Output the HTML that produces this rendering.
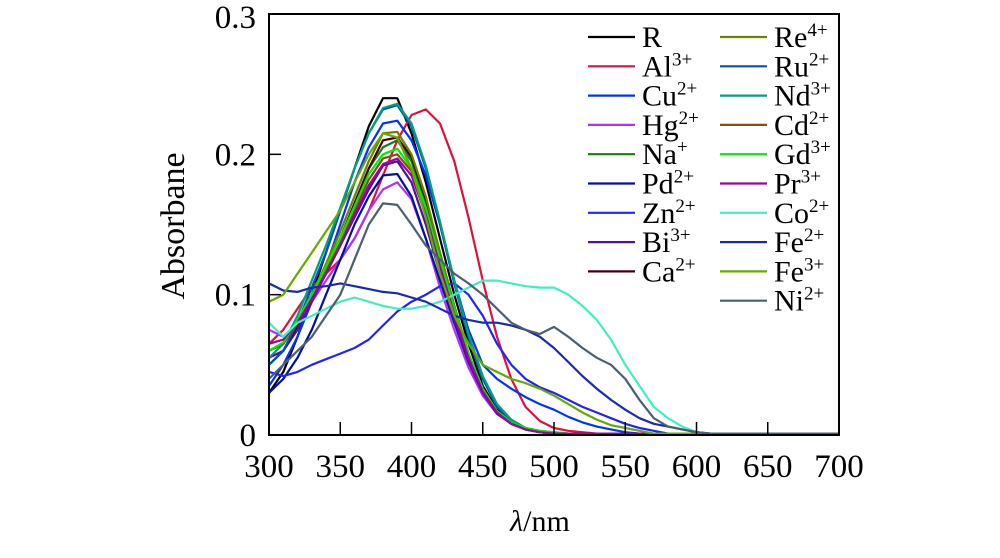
<!DOCTYPE html>
<html><head><meta charset="utf-8"><style>
body{margin:0;background:#fff;}
svg text{font-family:"Liberation Serif",serif;fill:#000;}
</style></head><body>
<svg id="chart" width="1000" height="553" viewBox="0 0 1000 553" xmlns="http://www.w3.org/2000/svg">
<g id="plot"></g>
<rect x="269" y="14" width="570" height="421" fill="none" stroke="#000" stroke-width="2"/>
<g id="axes"></g>
<g id="legend"></g>
<text x="0" y="0" font-size="34" text-anchor="middle" transform="translate(184,226) rotate(-90)">Absorbane</text>
<text x="540" y="531" font-size="30" text-anchor="middle"><tspan font-style="italic">λ</tspan>/nm</text>
</svg>
<script>
const wavelengths = [300,310,320,330,340,350,360,370,380,390,400,410,420,430,440,450,460,470,480,490,500,510,520,530,540,550,560,570,580,590,600,610,620,630,640,650,660,670,680,690,700];
const xTicks = [300,350,400,450,500,550,600,650,700];
const yTicks = [0,0.1,0.2,0.3];
const yTickLabels = ["0","0.1","0.2","0.3"];
const seriesNames = ["R","Al","Cu","Hg","Na","Pd","Zn","Bi","Ca","Re","Ru","Nd","Cd","Gd","Pr","Co","Fe2","Fe3","Ni"];
const seriesSup = ["","3+","2+","2+","+","2+","2+","3+","2+","4+","2+","3+","2+","3+","3+","2+","2+","3+","2+"];
const seriesColors = ["#000000","#e0103a","#0033ff","#b030ff","#108010","#0010a0","#2222ff","#5010a0","#400010","#708000","#0050c0","#00a080","#805010","#00ee00","#a000a0","#3ef0c0","#1a2ab0","#66aa00","#4a6070"];
const vR  = [0.03,0.045,0.07,0.10,0.13,0.16,0.19,0.22,0.24,0.24,0.215,0.18,0.14,0.10,0.065,0.035,0.018,0.008,0.004,0.002,0.001];
const vAl = [0.065,0.075,0.09,0.105,0.115,0.125,0.14,0.16,0.185,0.21,0.228,0.232,0.222,0.195,0.155,0.11,0.07,0.04,0.02,0.01,0.005,0.003,0.002];
const vCu = [0.035,0.05,0.07,0.095,0.12,0.15,0.18,0.205,0.222,0.224,0.21,0.185,0.15,0.11,0.075,0.05,0.04,0.033,0.027,0.022,0.018,0.013,0.009,0.006,0.004,0.002];
const vHg = [0.075,0.07,0.08,0.095,0.11,0.125,0.14,0.16,0.175,0.18,0.168,0.14,0.105,0.075,0.048,0.028,0.015,0.008,0.005,0.003,0.002];
const vNa = [0.06,0.065,0.08,0.1,0.12,0.14,0.165,0.19,0.205,0.21,0.195,0.165,0.125,0.09,0.058,0.032,0.016,0.008,0.004,0.002,0.001];
const vPd = [0.03,0.04,0.055,0.075,0.1,0.125,0.15,0.17,0.185,0.186,0.17,0.14,0.11,0.08,0.052,0.03,0.016,0.008,0.004,0.002,0.001];
const vZn = [0.045,0.042,0.045,0.05,0.054,0.058,0.062,0.068,0.078,0.088,0.095,0.1,0.106,0.108,0.1,0.085,0.065,0.05,0.04,0.034,0.03,0.025,0.02,0.016,0.012,0.008,0.005,0.003];
const vBi = [0.055,0.06,0.075,0.095,0.115,0.135,0.155,0.175,0.192,0.195,0.18,0.15,0.115,0.082,0.052,0.03,0.015,0.008,0.004,0.002,0.001];
const vCa = [0.05,0.06,0.078,0.1,0.12,0.14,0.165,0.19,0.21,0.212,0.198,0.168,0.13,0.092,0.058,0.032,0.016,0.008,0.004,0.002,0.001];
const vRe = [0.06,0.065,0.08,0.1,0.122,0.145,0.17,0.195,0.215,0.216,0.2,0.17,0.13,0.092,0.058,0.032,0.016,0.008,0.004,0.002,0.001];
const vRu = [0.05,0.06,0.08,0.105,0.13,0.16,0.19,0.215,0.232,0.235,0.22,0.19,0.15,0.108,0.07,0.04,0.02,0.01,0.005,0.002,0.001];
const vNd = [0.055,0.065,0.085,0.11,0.135,0.162,0.19,0.215,0.233,0.236,0.222,0.192,0.152,0.11,0.072,0.042,0.022,0.011,0.005,0.002,0.001];
const vCd = [0.06,0.065,0.08,0.098,0.118,0.138,0.16,0.182,0.197,0.2,0.188,0.16,0.122,0.088,0.056,0.032,0.016,0.008,0.004,0.002,0.001];
const vGd = [0.06,0.066,0.082,0.1,0.12,0.14,0.163,0.186,0.2,0.204,0.19,0.162,0.125,0.09,0.058,0.033,0.017,0.009,0.005,0.003,0.002];
const vPr = [0.065,0.068,0.08,0.097,0.115,0.135,0.157,0.178,0.193,0.197,0.185,0.157,0.12,0.086,0.055,0.031,0.016,0.008,0.004,0.002,0.001];
const vCo = [0.08,0.07,0.08,0.085,0.09,0.095,0.098,0.095,0.092,0.09,0.09,0.092,0.095,0.1,0.105,0.11,0.11,0.108,0.106,0.105,0.105,0.1,0.092,0.082,0.068,0.05,0.035,0.02,0.012,0.006,0.002];
const vFe2 = [0.108,0.103,0.102,0.105,0.106,0.108,0.106,0.104,0.102,0.101,0.098,0.095,0.09,0.085,0.082,0.08,0.08,0.078,0.075,0.07,0.062,0.052,0.042,0.033,0.025,0.018,0.012,0.008,0.006,0.004,0.002];
const vFe3 = [0.095,0.1,0.115,0.13,0.145,0.16,0.18,0.2,0.215,0.212,0.19,0.155,0.115,0.085,0.065,0.05,0.045,0.04,0.037,0.033,0.028,0.022,0.016,0.011,0.007,0.005,0.003];
const vNi = [0.04,0.05,0.06,0.07,0.085,0.1,0.125,0.15,0.165,0.164,0.15,0.135,0.125,0.115,0.108,0.1,0.09,0.08,0.075,0.072,0.077,0.07,0.062,0.055,0.05,0.04,0.025,0.012,0.006,0.004,0.002];
const seriesValues = [vR,vAl,vCu,vHg,vNa,vPd,vZn,vBi,vCa,vRe,vRu,vNd,vCd,vGd,vPr,vCo,vFe2,vFe3,vNi];

const NS="http://www.w3.org/2000/svg";
const X0=269,X1=839,Y0=435,Y1=14;
function xs(w){return X0+(w-300)/400*(X1-X0);}
function ys(v){return Y0-v/0.3*(Y0-Y1);}
const plot=document.getElementById('plot');
seriesValues.forEach((vals,i)=>{
  let d='';
  wavelengths.forEach((w,j)=>{
    const v = j<vals.length ? vals[j] : 0.001;
    d+=(j?'L':'M')+xs(w).toFixed(1)+','+ys(v).toFixed(1);
  });
  const p=document.createElementNS(NS,'path');
  p.setAttribute('d',d);p.setAttribute('fill','none');
  p.setAttribute('stroke',seriesColors[i]);p.setAttribute('stroke-width','2.2');
  p.setAttribute('stroke-linejoin','round');
  
  
  plot.appendChild(p);
});
const axes=document.getElementById('axes');
xTicks.forEach(t=>{
  const l=document.createElementNS(NS,'line');
  l.setAttribute('x1',xs(t));l.setAttribute('x2',xs(t));l.setAttribute('y1',Y0);l.setAttribute('y2',Y0-13);
  l.setAttribute('stroke','#000');l.setAttribute('stroke-width','1.5');
  
  
  axes.appendChild(l);
  const tx=document.createElementNS(NS,'text');
  tx.setAttribute('x',xs(t));tx.setAttribute('y',477);tx.setAttribute('font-size','33');tx.setAttribute('text-anchor','middle');
  tx.textContent=t;
  
  
  axes.appendChild(tx);
});
yTicks.forEach((t,i)=>{
  const l=document.createElementNS(NS,'line');
  l.setAttribute('x1',X0);l.setAttribute('x2',X0+12);l.setAttribute('y1',ys(t));l.setAttribute('y2',ys(t));
  l.setAttribute('stroke','#000');l.setAttribute('stroke-width','1.5');
  
  
  axes.appendChild(l);
  const tx=document.createElementNS(NS,'text');
  tx.setAttribute('x',256);tx.setAttribute('y',ys(t)+(i===3?14:11));tx.setAttribute('font-size','33');tx.setAttribute('text-anchor','end');
  tx.textContent=yTickLabels[i];
  
  
  axes.appendChild(tx);
});
const legend=document.getElementById('legend');
seriesNames.forEach((n,i)=>{
  const col=i<9?0:1, row=i<9?i:i-9;
  const lx=col?720:588, ty=37+row*29.3;
  const g=document.createElementNS(NS,'g');
  
  
  const l=document.createElementNS(NS,'line');
  l.setAttribute('x1',lx);l.setAttribute('x2',lx+47);l.setAttribute('y1',ty);l.setAttribute('y2',ty);
  l.setAttribute('stroke',seriesColors[i]);l.setAttribute('stroke-width','2.2');
  g.appendChild(l);
  const tx=document.createElementNS(NS,'text');
  tx.setAttribute('x',lx+54);tx.setAttribute('y',ty+10);tx.setAttribute('font-size','30');
  const base=n.replace(/[0-9]/g,'');
  tx.appendChild(document.createTextNode(base));
  if(seriesSup[i]){
    const s=document.createElementNS(NS,'tspan');
    s.setAttribute('font-size','19');s.setAttribute('dy','-11');
    s.textContent=seriesSup[i];tx.appendChild(s);
  }
  g.appendChild(tx);
  legend.appendChild(g);
});
</script>
</body></html>
